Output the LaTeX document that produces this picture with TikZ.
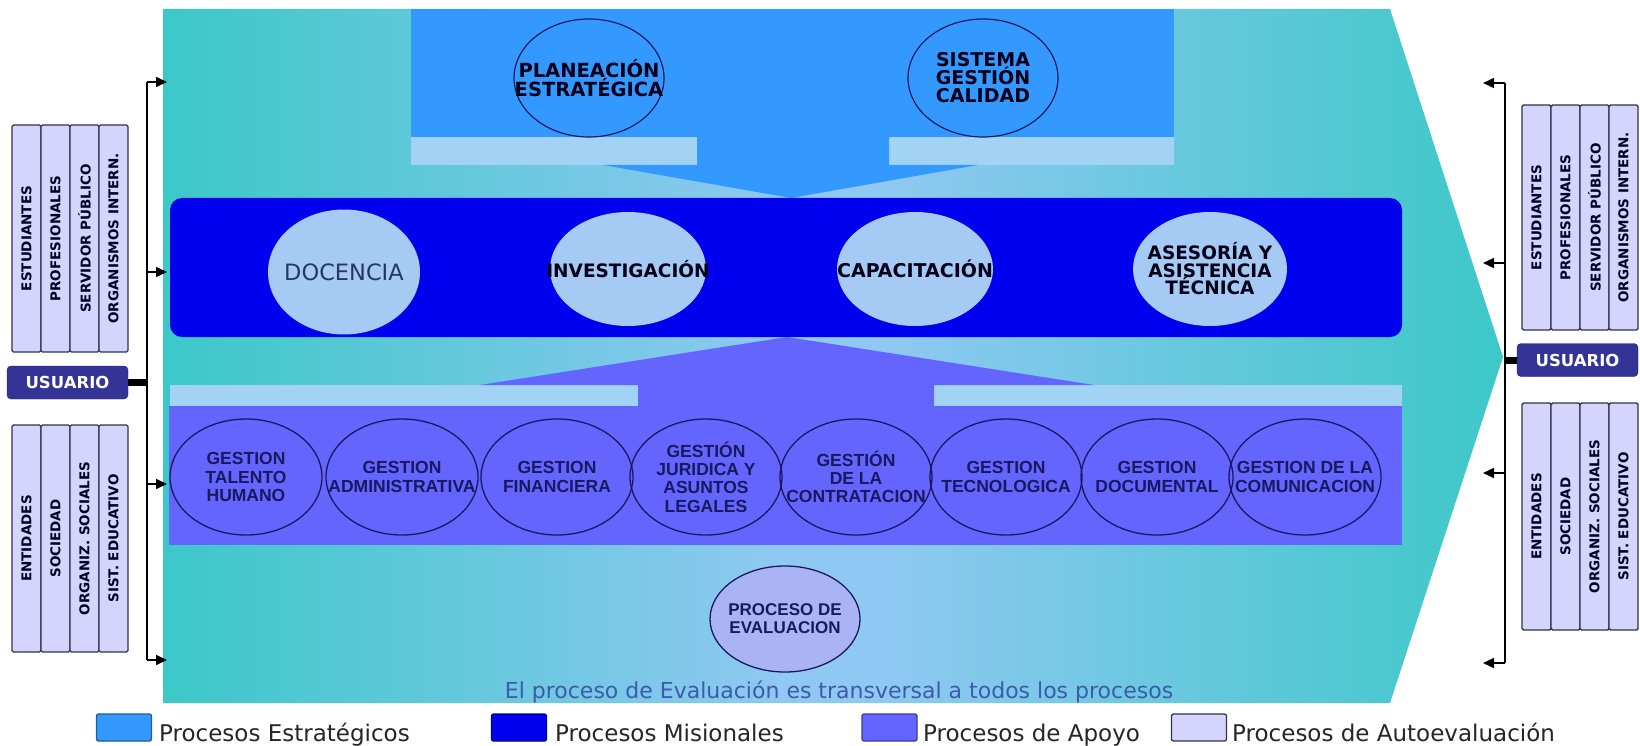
\documentclass[tikz,border=0pt]{standalone}
\usepackage{fontspec}
\setmainfont{DejaVu Sans}
\newfontfamily\arialf{Liberation Sans}
\usetikzlibrary{shapes.geometric,arrows.meta}
\definecolor{cTeal}{RGB}{60,200,200}
\definecolor{cLight}{RGB}{143,200,242}
\definecolor{cStrip}{RGB}{162,211,245}
\definecolor{cEst}{RGB}{51,153,255}
\definecolor{cMis}{RGB}{0,0,238}
\definecolor{cApo}{RGB}{100,100,255}
\definecolor{cEllM}{RGB}{165,203,245}
\definecolor{cEval}{RGB}{170,180,245}
\definecolor{cNavy}{RGB}{25,25,95}
\definecolor{cSide}{RGB}{212,212,252}
\definecolor{cSideLine}{RGB}{50,50,80}
\definecolor{cUser}{RGB}{52,52,150}
\definecolor{cNote}{RGB}{59,92,168}
\definecolor{cDoc}{RGB}{40,55,95}
\pgfdeclarehorizontalshading{chevshade}{100bp}{color(0bp)=(cTeal); color(25bp)=(cTeal); color(48bp)=(cLight); color(52bp)=(cLight); color(75bp)=(cTeal); color(100bp)=(cTeal)}
\begin{document}
\begin{tikzpicture}[x=1pt,y=-1pt,
  topc/.style={ellipse, draw=cNavy, line width=1.2, minimum width=150, minimum height=118, inner sep=0},
  misell/.style={ellipse, fill=cEllM, minimum width=156, minimum height=114, inner sep=0},
  boldtext/.style={align=center, inner sep=0, text=black!90!blue, font=\fontsize{18.5}{18}\selectfont\bfseries},
  doctext/.style={align=center, inner sep=0, text=cDoc, font=\fontsize{22.5}{24}\selectfont},
  apoc/.style={ellipse, draw=cNavy, line width=1.3, minimum width=152, minimum height=116, inner sep=0},
  apotext/.style={align=center, inner sep=0, text=cNavy, font=\arialf\fontsize{17.5}{18.3}\selectfont\bfseries},
  evalc/.style={ellipse, draw=cNavy, line width=1.3, fill=cEval, minimum width=150, minimum height=106, inner sep=0},
  sidecol/.style={rotate=90, draw=cSideLine, line width=1.4, fill=cSide, rounded corners=1.5, minimum width=227, minimum height=29, inner sep=0, text=black!85!blue, font=\fontsize{13.5}{14}\selectfont\bfseries},
  userbox/.style={draw=cUser!70!black, fill=cUser, rounded corners=4, minimum width=121, minimum height=33, inner sep=0, text=white, font=\fontsize{16.5}{17}\selectfont\bfseries},
  busline/.style={line width=1.3, black},
  busarrow/.style={line width=1.6, black, -{Triangle[length=11,width=10]}},
  linkbar/.style={line width=7, black},
  legbox/.style={rounded corners=2, line width=1.3, minimum width=55, minimum height=27, inner sep=0},
  legtext/.style={inner sep=0, anchor=base west, text=black!85, font=\fontsize{23}{24}\selectfont}
]
\useasboundingbox (0,0) rectangle (1640,746);
\fill[white] (0,0) rectangle (1640,746);

% background chevron with horizontal gradient
\shade[shading=chevshade] (163,9) -- (1390,9) -- (1503,357) -- (1390,703) -- (163,703) -- cycle;

% strategic block with down arrow
\fill[cStrip] (411,137) rectangle (697,165);
\fill[cStrip] (889,137) rectangle (1174,165);
\fill[cEst] (411,9) rectangle (1174,137);
\fill[cEst] (697,136) -- (889,136) -- (889,165) -- (978,165) -- (791,198) -- (603,165) -- (697,165) -- cycle;

% missional block
\fill[cMis, rounded corners=12] (170,198) rectangle (1402,337);

% support up arrow and block
\fill[cStrip] (170,385) rectangle (638,406);
\fill[cStrip] (934,385) rectangle (1402,406);
\fill[cApo] (638,407) -- (638,385) -- (480,385) -- (787,337) -- (1094,385) -- (934,385) -- (934,407) -- cycle;
\fill[cApo] (169,406) rectangle (1402,545);

% strategic circles
\node[topc] (plan) at (589,78) {};
\node[boldtext, font=\fontsize{19.5}{18.5}\selectfont\bfseries] (plan-t) at (plan) {PLANEACIÓN\\ESTRATÉGICA};
\node[topc] (sgc) at (983,78) {};
\node[boldtext, font=\fontsize{19}{18}\selectfont\bfseries] (sgc-t) at (sgc) {SISTEMA\\GESTIÓN\\CALIDAD};

% missional ellipses
\node[misell, minimum width=152, minimum height=125] (doc) at (344,272) {};
\node[doctext] (doc-t) at (doc) {DOCENCIA};
\node[misell] (inv) at (628,269) {};
\node[boldtext] (inv-t) at (inv) {INVESTIGACIÓN};
\node[misell] (cap) at (915,269) {};
\node[boldtext, font=\fontsize{19}{18}\selectfont\bfseries] (cap-t) at (cap) {CAPACITACIÓN};
\node[misell, minimum width=154] (ase) at (1210,269) {};
\node[boldtext, font=\fontsize{18.5}{17.5}\selectfont\bfseries] (ase-t) at (ase) {ASESORÍA Y\\ASISTENCIA\\TÉCNICA};

% support circles
\node[apoc] (a1) at (246,477) {};
\node[apotext] (a1-t) at (a1) {GESTION\\TALENTO\\HUMANO};
\node[apoc] (a2) at (402,477) {};
\node[apotext] (a2-t) at (a2) {GESTION\\ADMINISTRATIVA};
\node[apoc] (a3) at (557,477) {};
\node[apotext] (a3-t) at (a3) {GESTION\\FINANCIERA};
\node[apoc] (a4) at (706,477) {};
\node[apotext] (a4-t) at (a4) {GESTIÓN\\JURIDICA Y\\ASUNTOS\\LEGALES};
\node[apoc] (a5) at (856,477) {};
\node[apotext] (a5-t) at (a5) {GESTIÓN\\DE LA\\CONTRATACION};
\node[apoc] (a6) at (1006,477) {};
\node[apotext] (a6-t) at (a6) {GESTION\\TECNOLOGICA};
\node[apoc] (a7) at (1157,477) {};
\node[apotext] (a7-t) at (a7) {GESTION\\DOCUMENTAL};
\node[apoc] (a8) at (1305,477) {};
\node[apotext] (a8-t) at (a8) {GESTION DE LA\\COMUNICACION};

% evaluation
\node[evalc] (ev) at (785,619) {};
\node[apotext, font=\arialf\fontsize{17}{18}\selectfont\bfseries] (ev-t) at (ev) {PROCESO DE\\EVALUACION};
\node[inner sep=0, text=cNote, font=\fontsize{22}{23}\selectfont] (note) at (839,692) {El proceso de Evaluación es transversal a todos los procesos};

% left stakeholders
\node[sidecol] (lu1) at (26.5,238.5) {ESTUDIANTES};
\node[sidecol] (lu2) at (55.5,238.5) {PROFESIONALES};
\node[sidecol] (lu3) at (84.5,238.5) {SERVIDOR PÚBLICO};
\node[sidecol] (lu4) at (113.5,238.5) {ORGANISMOS INTERN.};
\node[sidecol] (ll1) at (26.5,538.5) {ENTIDADES};
\node[sidecol] (ll2) at (55.5,538.5) {SOCIEDAD};
\node[sidecol] (ll3) at (84.5,538.5) {ORGANIZ. SOCIALES};
\node[sidecol] (ll4) at (113.5,538.5) {SIST. EDUCATIVO};
\node[userbox] (luser) at (67.5,382.5) {USUARIO};

\coordinate (lbt) at (147,82);
\coordinate (lbb) at (147,660);
\coordinate (lbu) at (147,382.5);
\coordinate (lb2) at (147,272);
\coordinate (lb3) at (147,484);
\coordinate (le1) at (167,82);
\coordinate (le2) at (167,272);
\coordinate (le3) at (167,484);
\coordinate (le4) at (167,660);
\draw[busline] (lbt) -- (lbb);
\draw[linkbar] (luser.east) -- (lbu);
\draw[busarrow] (lbt) -- (le1);
\draw[busarrow] (lb2) -- (le2);
\draw[busarrow] (lb3) -- (le3);
\draw[busarrow] (lbb) -- (le4);

% right stakeholders
\node[sidecol, minimum width=225] (ru1) at (1536.5,217.5) {ESTUDIANTES};
\node[sidecol, minimum width=225] (ru2) at (1565.5,217.5) {PROFESIONALES};
\node[sidecol, minimum width=225] (ru3) at (1594.5,217.5) {SERVIDOR PÚBLICO};
\node[sidecol, minimum width=225] (ru4) at (1623.5,217.5) {ORGANISMOS INTERN.};
\node[sidecol] (rl1) at (1536.5,516.5) {ENTIDADES};
\node[sidecol] (rl2) at (1565.5,516.5) {SOCIEDAD};
\node[sidecol] (rl3) at (1594.5,516.5) {ORGANIZ. SOCIALES};
\node[sidecol] (rl4) at (1623.5,516.5) {SIST. EDUCATIVO};
\node[userbox] (ruser) at (1577.5,360) {USUARIO};

\coordinate (rbt) at (1505,83);
\coordinate (rbb) at (1505,663);
\coordinate (rbu) at (1505,360);
\coordinate (rb2) at (1505,263);
\coordinate (rb3) at (1505,473);
\coordinate (re1) at (1483,83);
\coordinate (re2) at (1483,263);
\coordinate (re3) at (1483,473);
\coordinate (re4) at (1483,663);
\draw[busline] (rbt) -- (rbb);
\draw[linkbar] (ruser.west) -- (rbu);
\draw[busarrow] (rbt) -- (re1);
\draw[busarrow] (rb2) -- (re2);
\draw[busarrow] (rb3) -- (re3);
\draw[busarrow] (rbb) -- (re4);

% legend
\node[legbox, fill=cEst, draw=cEst!60!black] (lg1) at (124,727.5) {};
\node[legtext] (lt1) at (159,741) {Procesos Estratégicos};
\node[legbox, fill=cMis, draw=cMis!60!black] (lg2) at (519,727.5) {};
\node[legtext] (lt2) at (555,741) {Procesos Misionales};
\node[legbox, fill=cApo, draw=cApo!60!black] (lg3) at (889.5,727.5) {};
\node[legtext] (lt3) at (923,741) {Procesos de Apoyo};
\node[legbox, fill=cSide, draw=cSideLine] (lg4) at (1199,727.5) {};
\node[legtext] (lt4) at (1232,741) {Procesos de Autoevaluación};
\end{tikzpicture}
\end{document}
